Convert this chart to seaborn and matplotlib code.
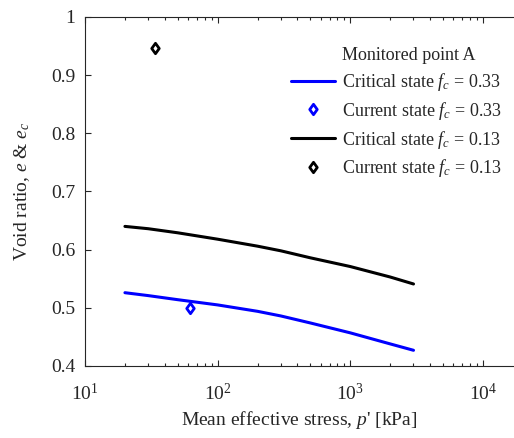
import numpy as np
import pandas as pd
import matplotlib
matplotlib.use("Agg")
import matplotlib.pyplot as plt
from matplotlib.ticker import FixedLocator, LogLocator, FuncFormatter, NullFormatter
from matplotlib.lines import Line2D
from matplotlib.path import Path
import seaborn as sns

# Critical state lines (mean effective stress in kPa, void ratio)
p_cs = [20, 30, 50, 100, 200, 300, 500, 1000, 2000, 3000]
e_cs_033 = [0.526, 0.521, 0.514, 0.505, 0.494, 0.486, 0.474, 0.457, 0.438, 0.427]
e_cs_013 = [0.640, 0.636, 0.629, 0.618, 0.606, 0.598, 0.586, 0.571, 0.553, 0.541]

# Current state of monitored point A
p_cur_033 = [62]
e_cur_033 = [0.499]
p_cur_013 = [33.5]
e_cur_013 = [0.947]

y_ticks = [0.4, 0.5, 0.6, 0.7, 0.8, 0.9, 1.0]
x_ticks = [1e1, 1e2, 1e3, 1e4]

sns.set_style("ticks")
plt.rcParams["font.family"] = ["Liberation Serif", "DejaVu Serif"]
plt.rcParams["mathtext.fontset"] = "custom"
plt.rcParams["mathtext.rm"] = "Liberation Serif"
plt.rcParams["mathtext.it"] = "Liberation Serif:italic"

# diamond marker, a little narrower than it is tall
diamond = Path([(0, 1), (0.72, 0), (0, -1), (-0.72, 0), (0, 1)],
               [Path.MOVETO, Path.LINETO, Path.LINETO, Path.LINETO, Path.CLOSEPOLY])

fig = plt.figure(figsize=(5.14, 4.38), dpi=100)
ax = fig.add_axes([0.1654, 0.1644, 0.8346, 0.7968])

cs = pd.DataFrame({
    "p": p_cs * 2,
    "e": e_cs_033 + e_cs_013,
    "fc": ["0.33"] * len(p_cs) + ["0.13"] * len(p_cs),
})
colors = {"0.33": "#0000ff", "0.13": "#000000"}

sns.lineplot(data=cs[cs.fc == "0.33"], x="p", y="e", color=colors["0.33"],
             linewidth=2.2, ax=ax, legend=False)
sns.lineplot(data=cs[cs.fc == "0.13"], x="p", y="e", color=colors["0.13"],
             linewidth=2.2, ax=ax, legend=False)

cur = pd.DataFrame({"p": p_cur_033 + p_cur_013, "e": e_cur_033 + e_cur_013,
                    "fc": ["0.33", "0.13"]})
for fc in ["0.33", "0.13"]:
    sub = cur[cur.fc == fc]
    ax.plot(sub.p, sub.e, linestyle="none", marker=diamond, markersize=7.5,
            markerfacecolor="white", markeredgecolor=colors[fc],
            markeredgewidth=2.0)

ax.set_xscale("log")
ax.set_xlim(10, 10 ** 4.235)
ax.set_ylim(0.4, 1.0)
ax.xaxis.set_major_locator(FixedLocator(x_ticks))
ax.xaxis.set_minor_locator(LogLocator(base=10, subs=np.arange(2, 10)))
ax.xaxis.set_minor_formatter(NullFormatter())
ax.xaxis.set_major_formatter(FuncFormatter(lambda v, _: r"$10^{%d}$" % round(np.log10(v))))
ax.yaxis.set_major_locator(FixedLocator(y_ticks))
ax.yaxis.set_major_formatter(FuncFormatter(lambda v, _: "%g" % round(v, 1)))

ax.tick_params(which="both", direction="in", top=True, right=False,
               labelsize=14, width=0.8, color="#262626", labelcolor="#262626")
ax.tick_params(which="major", length=4.5)
ax.tick_params(which="minor", length=2.5)
ax.tick_params(axis="x", which="major", pad=12)
ax.tick_params(axis="y", which="major", pad=7)
for s in ["left", "bottom", "top"]:
    ax.spines[s].set_visible(True)
    ax.spines[s].set_linewidth(0.8)
    ax.spines[s].set_color("#262626")
ax.spines["right"].set_visible(False)

ax.set_xlabel("Mean effective stress, $p$' [kPa]", fontsize=14, color="#262626", labelpad=4)
ax.set_ylabel("Void ratio, $e$ & $e_c$", fontsize=14, color="#262626", labelpad=14)

handles = [
    Line2D([], [], linestyle="none"),
    Line2D([], [], color=colors["0.33"], linewidth=2.2),
    Line2D([], [], linestyle="none", marker=diamond, markersize=7.5,
           markerfacecolor="white", markeredgecolor=colors["0.33"], markeredgewidth=2.0),
    Line2D([], [], color=colors["0.13"], linewidth=2.2),
    Line2D([], [], linestyle="none", marker=diamond, markersize=7.5,
           markerfacecolor="white", markeredgecolor=colors["0.13"], markeredgewidth=2.0),
]
labels = [
    "Monitored point A",
    "Critical state $f_c$ = 0.33",
    "Current state $f_c$ = 0.33",
    "Critical state $f_c$ = 0.13",
    "Current state $f_c$ = 0.13",
]
leg = fig.legend(handles, labels, loc="upper left", bbox_to_anchor=(291 / 514, 1 - 47 / 438),
                 frameon=False, fontsize=13, handlelength=2.45, handletextpad=0.35,
                 labelspacing=0.38, borderpad=0, borderaxespad=0)
for t in leg.get_texts():
    t.set_color("#262626")

fig.savefig("out.png", dpi=100)
